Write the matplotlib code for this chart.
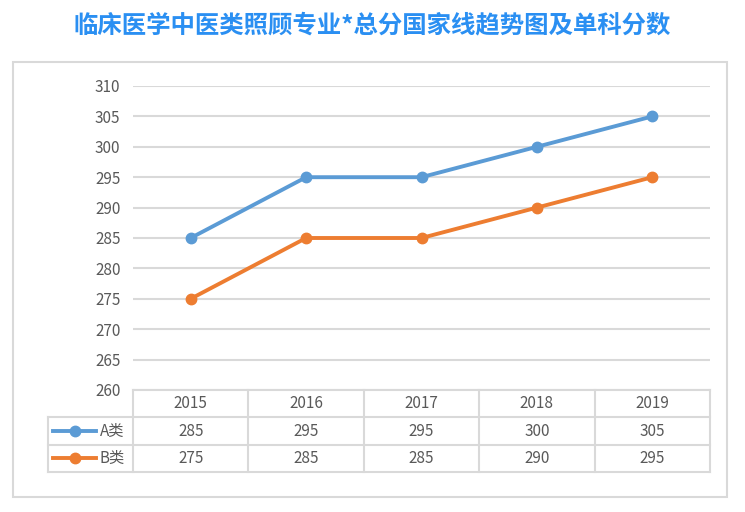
import matplotlib
matplotlib.use("Agg")
import matplotlib.pyplot as plt
from matplotlib.patches import Rectangle

plt.rcParams['font.family'] = ['Noto Sans CJK SC', 'DejaVu Sans']

# data
years = ["2015", "2016", "2017", "2018", "2019"]
a_scores = [285, 295, 295, 300, 305]
b_scores = [275, 285, 285, 290, 295]
series_names = ["A类", "B类"]
title = "临床医学中医类照顾专业*总分国家线趋势图及单科分数"

colors = ["#5B9BD5", "#ED7D31"]
grid_col = "#d9d9d9"
text_col = "#595959"

W, H = 745, 512
fig = plt.figure(figsize=(W / 100, H / 100), dpi=100)

# outer frame of the chart
fig.patches.append(Rectangle((13 / W, 1 - 497 / H), 714 / W, 435 / H,
                             transform=fig.transFigure, fill=False,
                             edgecolor=grid_col, lw=1.5))

fig.text(0.5, 1 - 25 / H, title, ha="center", va="center",
         fontsize=17.6, fontweight="bold", color="#2a8ff2")

# plot area
ax = fig.add_axes([133 / W, 1 - 390 / H, 577 / W, 304 / H])
x = list(range(len(years)))
ax.plot(x, a_scores, "-o", color=colors[0], lw=2.8, ms=7.5, zorder=3)
ax.plot(x, b_scores, "-o", color=colors[1], lw=2.8, ms=7.5, zorder=3)
ax.set_xlim(-0.5, len(years) - 0.5)
ax.set_ylim(260, 310)
ax.set_yticks(range(260, 311, 5))
ax.set_xticks([])
ax.grid(axis="y", color=grid_col, lw=1.5)
ax.set_axisbelow(True)
for s in ax.spines.values():
    s.set_visible(False)
ax.tick_params(axis="y", length=0, pad=9, labelsize=11, labelcolor=text_col)
ax.set_facecolor("none")

# data table under the plot
cat_px = 577 / len(years)
leg_px = 85
tax = fig.add_axes([48 / W, 1 - 472 / H, 662 / W, 82 / H])
left = -0.5 - leg_px / cat_px
right = len(years) - 0.5
tax.set_xlim(left, right)
tax.set_ylim(0, 3)
tax.axis("off")


def px(p):
    return left + (p - 48) / cat_px


lk = dict(color=grid_col, lw=1.5, clip_on=False)
tax.plot([-0.5, right], [3, 3], **lk)
for yy in [2, 1, 0]:
    tax.plot([left, right], [yy, yy], **lk)
for i in range(len(years) + 1):
    tax.plot([i - 0.5, i - 0.5], [0, 3], **lk)
tax.plot([left, left], [0, 2], **lk)

fs = 11
for i, yr in enumerate(years):
    tax.text(i, 2.5, yr, ha="center", va="center", fontsize=fs, color=text_col)
    tax.text(i, 1.5, str(a_scores[i]), ha="center", va="center", fontsize=fs, color=text_col)
    tax.text(i, 0.5, str(b_scores[i]), ha="center", va="center", fontsize=fs, color=text_col)

for row, name, c in zip([1.5, 0.5], series_names, colors):
    tax.plot([px(53), px(96)], [row, row], color=c, lw=2.8, clip_on=False)
    tax.plot([px(75)], [row], "o", color=c, ms=7.5, clip_on=False)
    tax.text(px(100), row, name, ha="left", va="center", fontsize=fs, color=text_col)

fig.savefig("out.png", dpi=100)
